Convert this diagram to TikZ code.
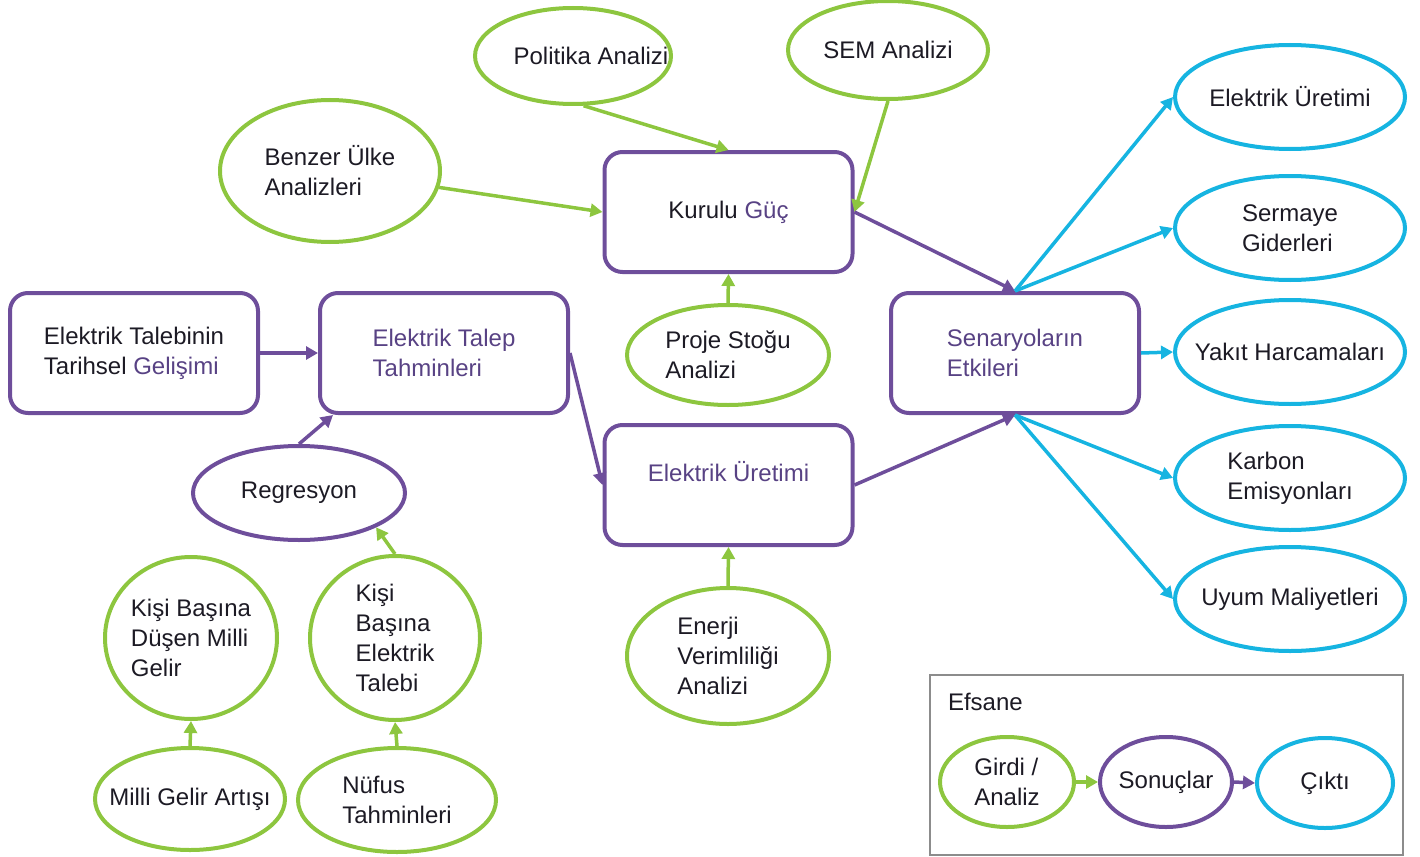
\documentclass[tikz,border=0pt]{standalone}
\usepackage{fontspec}
\setmainfont{Liberation Sans}
\usetikzlibrary{arrows.meta,shapes.geometric}

\definecolor{inGreen}{RGB}{141,198,63}
\definecolor{resPurple}{RGB}{110,78,155}
\definecolor{outCyan}{RGB}{22,180,225}
\definecolor{txtDark}{RGB}{28,26,36}
\definecolor{txtPurple}{RGB}{88,66,132}
\definecolor{legendGray}{RGB}{140,140,140}

\tikzset{
  base/.style={line width=4pt, inner sep=0pt, align=left, text=txtDark,
    font=\fontsize{24}{30}\selectfont},
  sz/.style 2 args={minimum width=#1, minimum height=#2},
  % the ellipses take their size from minimum width/height only
  ell/.style={base, ellipse, inner xsep=-30pt, inner ysep=-20pt},
  inp/.style={ell, draw=inGreen},
  resbox/.style={base, draw=resPurple, rounded corners=18pt,
    minimum width=248pt, minimum height=120pt},
  resell/.style={ell, draw=resPurple},
  outp/.style={ell, draw=outCyan},
  outbig/.style={outp, sz={230pt}{104pt}},
  tip/.style={-{Triangle[length=12pt,width=13pt]}},
  garrow/.style={tip, draw=inGreen, line width=3.5pt},
  parrow/.style={tip, draw=resPurple, line width=3.5pt},
  carrow/.style={tip, draw=outCyan, line width=3.5pt},
}

\begin{document}
\begin{tikzpicture}[x=1pt,y=-1pt]
\useasboundingbox (0,0) rectangle (1420,856);

% inputs and analyses
\node[inp, sz={196pt}{96pt}]  (pol)   at (573,56)  {\hspace*{36pt}Politika Analizi};
\node[inp, sz={200pt}{98pt}]  (sem)   at (888,50)  {SEM Analizi};
\node[inp, sz={220pt}{142pt}] (benz)  at (330,171) {Benzer Ülke\\Analizleri};
\node[inp, sz={202pt}{100pt}] (proj)  at (728,355) {Proje Stoğu\\Analizi};
\node[inp, sz={202pt}{136pt}] (enver) at (728,656) {Enerji\\Verimliliği\\Analizi};
\node[inp, sz={172pt}{162pt}] (kdmg)  at (191,638) {Kişi Başına\\Düşen Milli\\Gelir};
\node[inp, sz={170pt}{164pt}] (kbet)  at (395,638) {Kişi\\Başına\\Elektrik\\Talebi};
\node[inp, sz={190pt}{102pt}] (mga)   at (190,799) {Milli Gelir Artışı};
\node[inp, sz={198pt}{104pt}] (nuf)   at (397,800) {Nüfus\\Tahminleri};

% results
\node[resell, sz={212pt}{94pt}] (reg) at (299,493) {Regresyon};
\node[resbox] (kg)    at (728.5,212) {Kurulu \textcolor{txtPurple}{Güç}};
\node[resbox] (hist)  at (134,353)   {Elektrik Talebinin\\Tarihsel \textcolor{txtPurple}{Gelişimi}};
\node[resbox, text=txtPurple] (talep) at (444,353)   {Elektrik Talep\\Tahminleri};
\node[resbox, text=txtPurple, text depth=28pt] (uret) at (728.5,485) {Elektrik Üretimi};
\node[resbox, text=txtPurple] (sen)   at (1015,353)  {Senaryoların\\Etkileri};

% outputs
\node[outbig] (o1) at (1290,97)  {Elektrik Üretimi};
\node[outbig] (o2) at (1290,228) {Sermaye\\Giderleri};
\node[outbig] (o3) at (1290,352) {Yakıt Harcamaları};
\node[outbig] (o4) at (1290,478) {Karbon\\Emisyonları};
\node[outbig] (o5) at (1290,599) {Uyum Maliyetleri};

% green connectors
\draw[garrow] (pol.-78) -- (kg.north);
\draw[garrow] (sem.south) -- (kg.east);
\draw[garrow] (benz) -- (kg.west);
\draw[garrow] (proj.north) -- (kg.south);
\draw[garrow] (enver.north) -- (uret.south);
\draw[garrow] (kbet.north) -- (reg.-24);
\draw[garrow] (mga.north) -- (kdmg.south);
\draw[garrow] (nuf.north) -- (kbet.south);

% purple connectors
\draw[parrow] (kg.east) -- (sen.north);
\draw[parrow] (hist.east) -- (talep.west);
\draw[parrow] (reg.north) -- ([xshift=15pt]talep.south west);
\draw[parrow] (talep.east) -- (uret.west);
\draw[parrow] (uret.east) -- (sen.south);

% cyan connectors
\draw[carrow] (sen.north) -- (o1.west);
\draw[carrow] (sen.north) -- (o2.west);
\draw[carrow] (sen.east) -- (o3.west);
\draw[carrow] (sen.south) -- (o4.west);
\draw[carrow] (sen.south) -- (o5.west);

% legend
\draw[legendGray, line width=2pt] (930,675) rectangle (1403,855);
\node[base, anchor=base west] (efs) at (946,710) {Efsane};
\node[inp, sz={134pt}{90pt}]    (lg) at (1007,782) {Girdi /\\Analiz};
\node[resell, sz={132pt}{90pt}] (lp) at (1166,782) {Sonuçlar};
\node[outp, sz={136pt}{90pt}]   (lc) at (1325,783) {Çıktı};
\draw[garrow] (lg.east) -- (lp.west);
\draw[parrow] (lp.east) -- (lc.west);
\end{tikzpicture}
\end{document}
